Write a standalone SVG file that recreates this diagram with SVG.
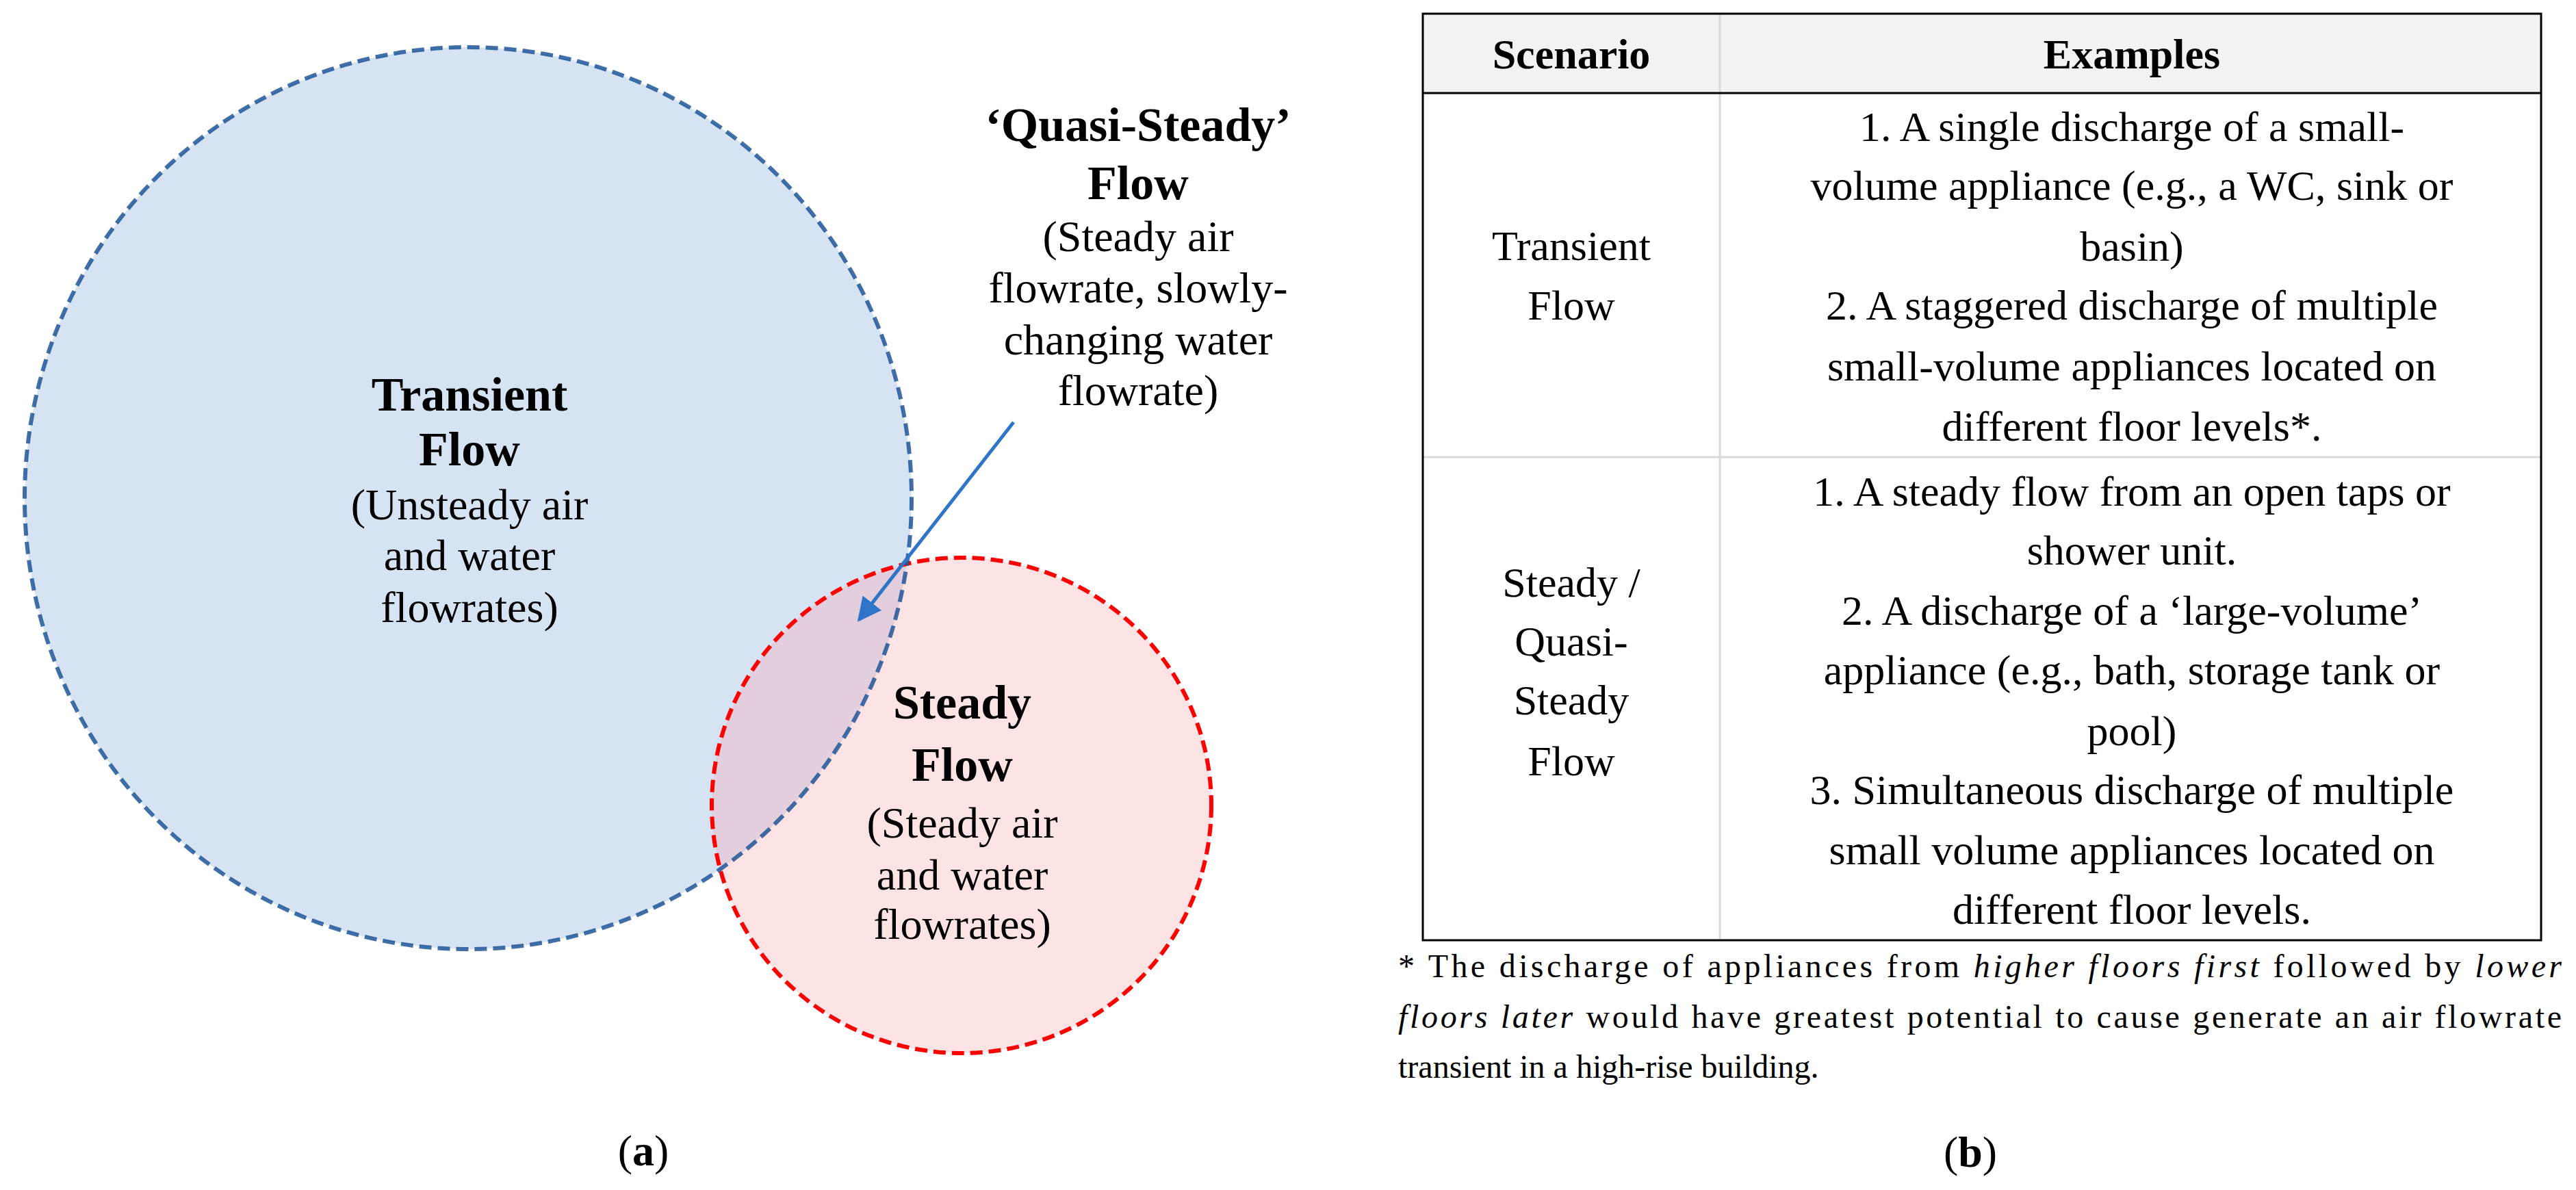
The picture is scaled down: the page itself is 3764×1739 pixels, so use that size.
<svg xmlns="http://www.w3.org/2000/svg" width="3764" height="1739" viewBox="0 0 3764 1739">
<style>
.t{font-family:"Liberation Serif","Times New Roman",serif;fill:#000;text-anchor:middle}
.b{font-weight:bold;font-size:70px}
.r{font-size:64px}
.c{font-size:62px}
.f{font-family:"Liberation Serif","Times New Roman",serif;font-size:48px;fill:#000}
.grid{stroke:#d9d9d9;stroke-width:3}
</style>
<defs>
<clipPath id="redclip"><ellipse cx="1405" cy="1177" rx="365" ry="362"/></clipPath>
<marker id="ah" viewBox="0 0 10 10" refX="9" refY="5" markerWidth="7" markerHeight="7" orient="auto" markerUnits="strokeWidth"><path d="M0,0 L10,5 L0,10 z" fill="#2e75c8"/></marker>
</defs>
<rect width="3764" height="1739" fill="#fff"/>
<g id="transient">
<ellipse cx="684" cy="728" rx="648" ry="659" fill="#d6e3f3"/>
</g>
<g id="steady">
<ellipse cx="1405" cy="1177" rx="365" ry="362" fill="#fde3e4"/>
<ellipse cx="684" cy="728" rx="648" ry="659" fill="#e2cedc" clip-path="url(#redclip)"/>
<ellipse cx="1405" cy="1177" rx="365" ry="362" fill="none" stroke="#ff0000" stroke-width="6" stroke-dasharray="18 9"/>
</g>
<ellipse cx="684" cy="728" rx="648" ry="659" fill="none" stroke="#1f5597" stroke-width="6" stroke-dasharray="18 9" opacity="0.85"/>
<g id="transient-label">
<text class="t b" x="686" y="600">Transient</text>
<text class="t b" x="686" y="680">Flow</text>
<text class="t r" x="686" y="759">(Unsteady air</text>
<text class="t r" x="686" y="833">and water</text>
<text class="t r" x="686" y="909">flowrates)</text>
</g>
<g id="steady-label">
<text class="t b" x="1406" y="1050">Steady</text>
<text class="t b" x="1406" y="1141">Flow</text>
<text class="t r" x="1406" y="1224">(Steady air</text>
<text class="t r" x="1406" y="1300">and water</text>
<text class="t r" x="1406" y="1372">flowrates)</text>
</g>
<g id="quasi-label">
<text class="t b" x="1663" y="206">‘Quasi-Steady’</text>
<text class="t b" x="1663" y="291">Flow</text>
<text class="t r" x="1663" y="367">(Steady air</text>
<text class="t r" x="1663" y="442">flowrate, slowly-</text>
<text class="t r" x="1663" y="518">changing water</text>
<text class="t r" x="1663" y="592">flowrate)</text>
</g>
<g id="connectors">
<line x1="1481" y1="617" x2="1255" y2="906" stroke="#2e75c8" stroke-width="5" marker-end="url(#ah)"/>
</g>
<text class="t r" x="940" y="1703">(<tspan font-weight="bold">a</tspan>)</text>
<g id="table">
<rect x="2079" y="20" width="1634" height="116" fill="#f2f2f2"/>
<line class="grid" x1="2513" y1="20" x2="2513" y2="1374"/>
<line class="grid" x1="2079" y1="668" x2="3713" y2="668"/>
<rect x="2079" y="20" width="1634" height="1354" fill="none" stroke="#000" stroke-width="3"/>
<line x1="2079" y1="136" x2="3713" y2="136" stroke="#000" stroke-width="3"/>
<text class="t c" font-weight="bold" x="2296" y="100">Scenario</text>
<text class="t c" font-weight="bold" x="3115" y="100">Examples</text>
<text class="t c" x="2296" y="380">Transient</text>
<text class="t c" x="2296" y="467">Flow</text>
<text class="t c" x="3115" y="206">1. A single discharge of a small-</text>
<text class="t c" x="3115" y="292">volume appliance (e.g., a WC, sink or</text>
<text class="t c" x="3115" y="381">basin)</text>
<text class="t c" x="3115" y="467">2. A staggered discharge of multiple</text>
<text class="t c" x="3115" y="556">small-volume appliances located on</text>
<text class="t c" x="3115" y="644">different floor levels*.</text>
<text class="t c" x="2296" y="872">Steady /</text>
<text class="t c" x="2296" y="958">Quasi-</text>
<text class="t c" x="2296" y="1044">Steady</text>
<text class="t c" x="2296" y="1133">Flow</text>
<text class="t c" x="3115" y="739">1. A steady flow from an open taps or</text>
<text class="t c" x="3115" y="825">shower unit.</text>
<text class="t c" x="3115" y="913">2. A discharge of a ‘large-volume’</text>
<text class="t c" x="3115" y="1000">appliance (e.g., bath, storage tank or</text>
<text class="t c" x="3115" y="1089">pool)</text>
<text class="t c" x="3115" y="1175">3. Simultaneous discharge of multiple</text>
<text class="t c" x="3115" y="1263">small volume appliances located on</text>
<text class="t c" x="3115" y="1350">different floor levels.</text>
</g>
<g id="footnote">
<text class="f" x="2043" y="1428" textLength="1700" lengthAdjust="spacing">* The discharge of appliances from <tspan font-style="italic">higher floors first</tspan> followed by <tspan font-style="italic">lower</tspan></text>
<text class="f" x="2043" y="1502" textLength="1700" lengthAdjust="spacing"><tspan font-style="italic">floors later</tspan> would have greatest potential to cause generate an air flowrate</text>
<text class="f" x="2043" y="1575">transient in a high-rise building.</text>
</g>
<text class="t r" x="2879" y="1705">(<tspan font-weight="bold">b</tspan>)</text>
</svg>
